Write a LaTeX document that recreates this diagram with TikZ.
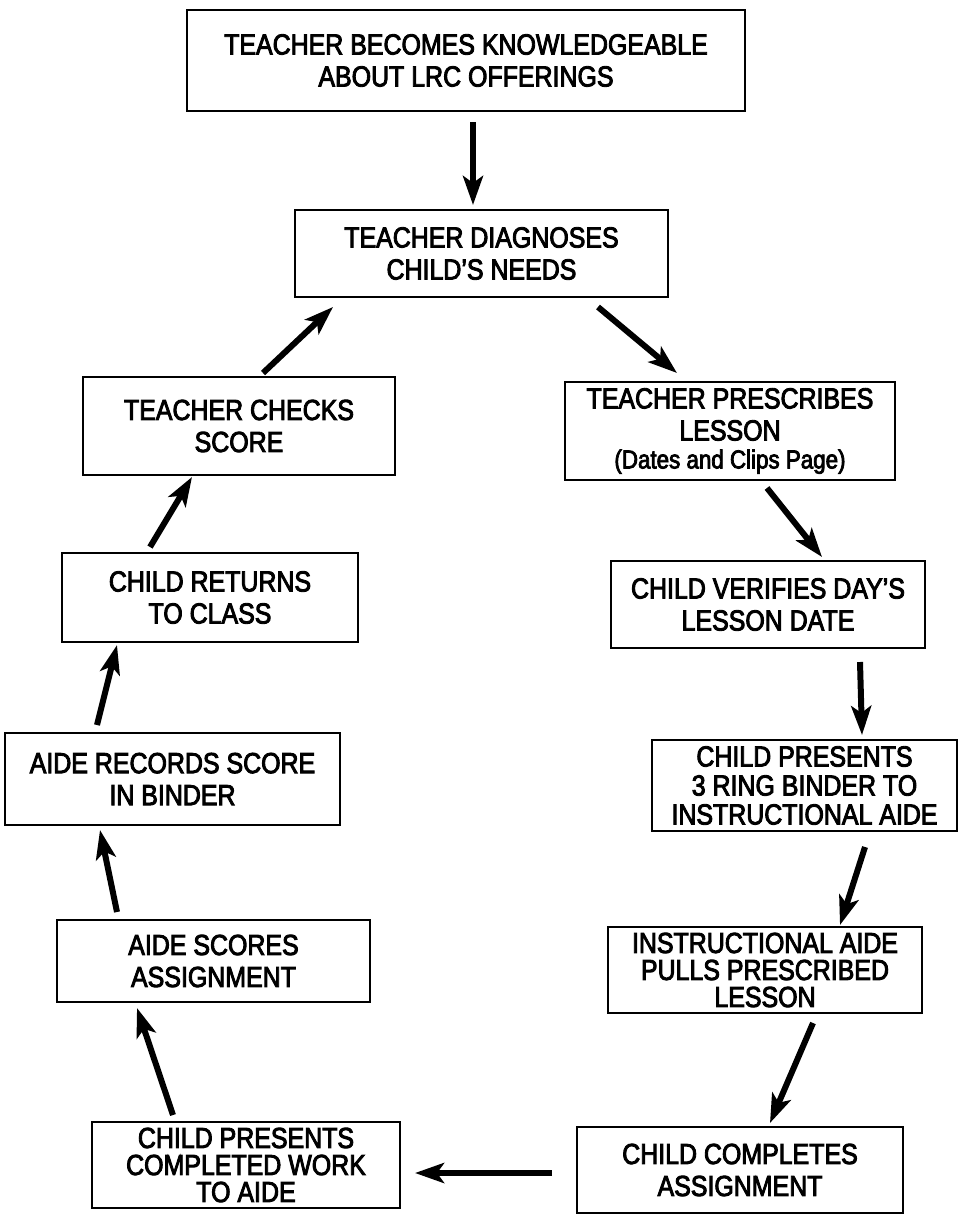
\documentclass[tikz,border=0pt]{standalone}
\usepackage{fontspec}
\setmainfont{Liberation Sans}[FakeStretch=0.86,FakeBold=3]
\usetikzlibrary{arrows.meta}

\begin{document}
\begin{tikzpicture}[x=1pt, y=1pt,
  every node/.style={font=\fontsize{29}{32}\selectfont},
  box/.style={draw, line width=2.7pt, align=center, inner sep=0pt, outer sep=0pt},
  tight/.style={font=\fontsize{29}{27}\selectfont},
  flow/.style={line width=6pt, -{Stealth[length=29pt,width=20pt,inset=7pt]}}
]
  \useasboundingbox (0,0) rectangle (960,-1215);

  % top of the chart
  \node[box, minimum width=558pt, minimum height=101pt] (know) at (466,-60.5)
    {TEACHER BECOMES KNOWLEDGEABLE\\ABOUT LRC OFFERINGS};
  \node[box, minimum width=373pt, minimum height=87pt] (diag) at (481.5,-253.5)
    {TEACHER DIAGNOSES\\CHILD’S NEEDS};

  % right side, going down
  \node[box, minimum width=330pt, minimum height=98pt] (presc) at (730,-431)
    {TEACHER PRESCRIBES\\LESSON\\[-4pt]{\fontsize{26}{28}\selectfont(Dates and Clips Page)}};
  \node[box, minimum width=314pt, minimum height=87pt] (verif) at (768,-604.5)
    {CHILD VERIFIES DAY’S\\LESSON DATE};
  \node[box, font=\fontsize{29}{29}\selectfont, minimum width=305pt, minimum height=91pt] (binder) at (804.5,-785.5)
    {CHILD PRESENTS\\3 RING BINDER TO\\INSTRUCTIONAL AIDE};
  \node[box, tight, minimum width=314pt, minimum height=86pt] (pulls) at (765,-970)
    {INSTRUCTIONAL AIDE\\PULLS PRESCRIBED\\LESSON};
  \node[box, minimum width=326pt, minimum height=86pt] (compl) at (740,-1170)
    {CHILD COMPLETES\\ASSIGNMENT};

  % left side, going up
  \node[box, tight, minimum width=308pt, minimum height=86pt] (cwork) at (246,-1165)
    {CHILD PRESENTS\\COMPLETED WORK\\TO AIDE};
  \node[box, minimum width=313pt, minimum height=82pt] (scores) at (213.5,-961)
    {AIDE SCORES\\ASSIGNMENT};
  \node[box, minimum width=335pt, minimum height=92pt] (records) at (172.5,-779)
    {AIDE RECORDS SCORE\\IN BINDER};
  \node[box, minimum width=296pt, minimum height=89pt] (returns) at (210,-597.5)
    {CHILD RETURNS\\TO CLASS};
  \node[box, minimum width=312pt, minimum height=98pt] (checks) at (239,-426)
    {TEACHER CHECKS\\SCORE};

  % arrows: from anchor + shift to anchor + shift
  \foreach \a/\ax/\ay/\b/\bx/\by in {
      know.south/7/-11/diag.north/-8.5/5,
      diag.south/116.5/-10/presc.north/-53/9,
      presc.south/37/-8/verif.north/54/4,
      verif.south/92/-14/binder.north/57.5/5,
      binder.south/60.5/-16/pulls.north/75/2,
      pulls.south/48/-10/compl.north/30/4,
      compl.west/-25/-3/cwork.east/15/-8,
      cwork.north/-73/7/scores.south/-76.5/-6,
      scores.north/-96.5/8/records.south/-72.5/-5,
      records.north/-75.5/8/returns.south/-93/-3,
      returns.north/-60/6/checks.south/-47/-2,
      checks.north/24/4/diag.south/-148.5/-10}
    \draw[flow] ([shift={(\ax,\ay)}]\a) -- ([shift={(\bx,\by)}]\b);
\end{tikzpicture}
\end{document}
